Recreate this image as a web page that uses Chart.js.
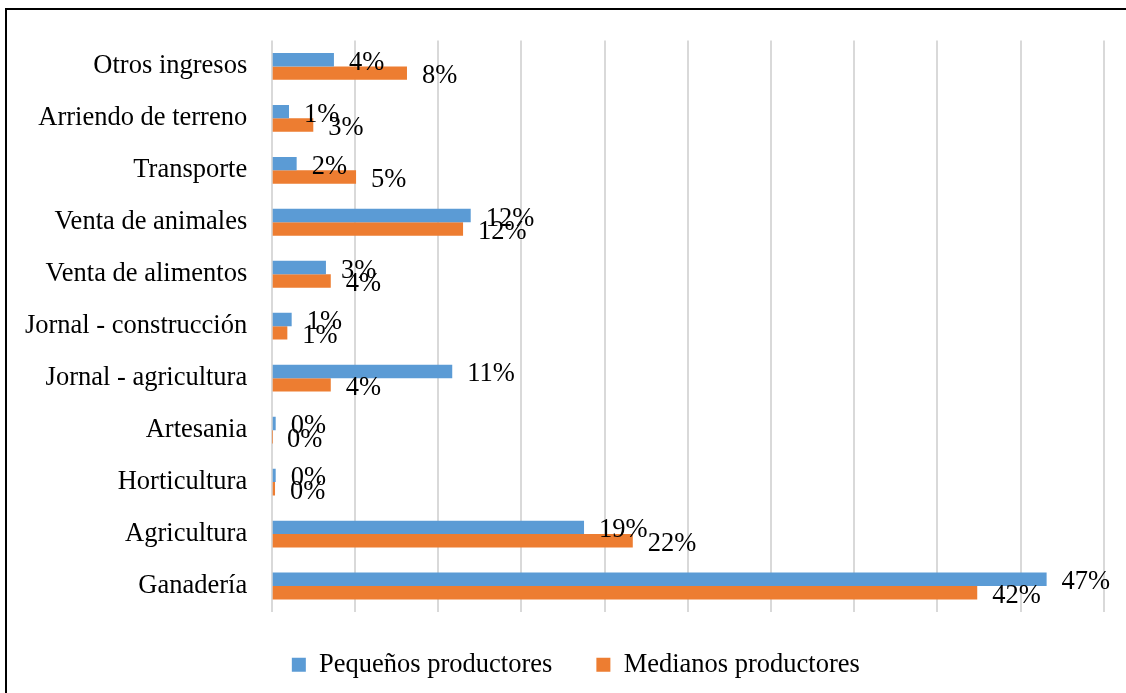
<!DOCTYPE html>
<html>
<head>
<meta charset="utf-8">
<script src="https://cdn.jsdelivr.net/npm/chart.js@4"></script>
<style>
  html, body { margin: 0; padding: 0; background: #fff; overflow: hidden; width: 1126px; height: 693px; }
  #frame { position: absolute; left: 5px; top: 8px; width: 1300px; height: 900px; border: 2px solid #000; box-sizing: border-box; }
  #c { position: absolute; left: 0; top: 0; }
</style>
</head>
<body>
<div id="frame"></div>
<canvas id="c" width="1126" height="693"></canvas>
<script>
const categories = [
  'Otros ingresos', 'Arriendo de terreno', 'Transporte', 'Venta de animales',
  'Venta de alimentos', 'Jornal - construcción', 'Jornal - agricultura',
  'Artesania', 'Horticultura', 'Agricultura', 'Ganadería'
];
const pequenos = [3.74, 1.04, 1.5, 11.96, 3.26, 1.2, 10.85, 0.24, 0.24, 18.77, 46.57];
const medianos = [8.13, 2.5, 5.07, 11.5, 3.55, 0.94, 3.55, 0.02, 0.2, 21.7, 42.4];
const seriesNames = ['Pequeños productores', 'Medianos productores'];
const xTicks = { min: 0, max: 50, step: 5 };

const FONT = 'Liberation Serif, Times New Roman, serif';
const FS = 26.5;

const labelPlugin = {
  id: 'valueLabels',
  afterDatasetsDraw(chart) {
    const ctx = chart.ctx;
    ctx.save();
    ctx.font = FS + 'px ' + FONT;
    ctx.fillStyle = '#000';
    ctx.textAlign = 'left';
    ctx.textBaseline = 'alphabetic';
    chart.data.datasets.forEach((ds, i) => {
      chart.getDatasetMeta(i).data.forEach((el, j) => {
        const txt = Math.round(ds.data[j]) + '%';
        ctx.fillText(txt, el.x + 15, el.y + 10);
      });
    });
    ctx.restore();
  }
};

const shiftLegend = {
  id: 'shiftLegend',
  afterLayout(chart) {
    const lg = chart.legend;
    if (lg) {
      lg.top -= 4.5; lg.bottom -= 4.5;
      lg.left += 24; lg.right += 24;
    }
  }
};

new Chart(document.getElementById('c'), {
  type: 'bar',
  data: {
    labels: categories,
    datasets: [
      { label: seriesNames[0], data: pequenos, backgroundColor: '#5B9BD5', borderWidth: 0 },
      { label: seriesNames[1], data: medianos, backgroundColor: '#ED7D31', borderWidth: 0 }
    ]
  },
  options: {
    indexAxis: 'y',
    responsive: false,
    animation: false,
    devicePixelRatio: 1,
    categoryPercentage: 0.516,
    barPercentage: 1,
    layout: { padding: { left: 0, right: 22.3, top: 37, bottom: 0.5 } },
    plugins: {
      tooltip: { enabled: false },
      legend: {
        position: 'bottom',
        labels: {
          boxWidth: 14, boxHeight: 14, padding: 44,
          color: '#000',
          font: { family: FONT, size: FS }
        }
      }
    },
    scales: {
      x: {
        type: 'linear', min: xTicks.min, max: xTicks.max,
        ticks: { display: false, stepSize: xTicks.step },
        grid: { color: '#d9d9d9', lineWidth: 2, drawTicks: false },
        border: { display: false },
        afterFit(scale) { scale.height = 0; }
      },
      y: {
        ticks: { color: '#000', font: { family: FONT, size: FS }, padding: 24.5, autoSkip: false },
        grid: { display: false, drawTicks: false },
        border: { display: false },
        afterFit(scale) { scale.width = 271.7; }
      }
    }
  },
  plugins: [labelPlugin, shiftLegend]
});
</script>
</body>
</html>
